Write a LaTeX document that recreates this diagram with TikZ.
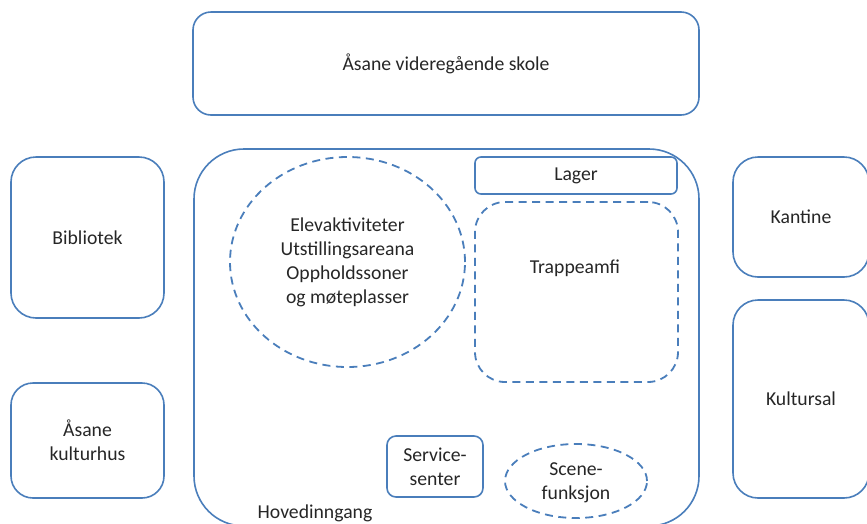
\documentclass[tikz,border=0pt]{standalone}
\usepackage{fontspec}
\setmainfont{Carlito}
\usetikzlibrary{shapes.geometric}
\definecolor{lineblue}{RGB}{74,126,187}
\tikzset{
  boxnode/.style={draw=lineblue, line width=1.6pt, rectangle, inner sep=0pt, align=center},
  dashnode/.style={draw=lineblue, line width=1.8pt, dash pattern=on 8pt off 5.5pt, inner sep=0pt, align=center},
  lbl/.style={inner sep=0pt, align=center},
}
\begin{document}
\begin{tikzpicture}[x=1pt,y=-1pt, every node/.style={font=\fontsize{19.7}{24}\selectfont, text=black!85}]
\useasboundingbox (0,0) rectangle (867,523);
\clip (0,0) rectangle (867,523);
% main box
\node[boxnode, rounded corners=50pt, minimum width=505pt, minimum height=377pt] (main) at (446.5,337.5) {};
% top
\node[boxnode, rounded corners=18pt, minimum width=506pt, minimum height=103pt] (skole) at (446,63.5) {Åsane videregående skole};
% left
\node[boxnode, rounded corners=25pt, minimum width=153pt, minimum height=161pt] (bib) at (87.5,237.5) {Bibliotek};
\node[boxnode, rounded corners=22pt, minimum width=153pt, minimum height=115pt] (kulturhus) at (87.5,440.5) {Åsane\\kulturhus};
% right
\node[boxnode, rounded corners=25pt, minimum width=136pt, minimum height=120pt] (kantine) at (801,217) {Kantine};
\node[boxnode, rounded corners=25pt, minimum width=136pt, minimum height=198pt] (kultursal) at (801,399) {Kultursal};
% inner
\node[boxnode, rounded corners=6pt, minimum width=202pt, minimum height=37pt] (lager) at (576,175.5) {Lager};
\node[dashnode, rectangle, rounded corners=30pt, minimum width=203pt, minimum height=180pt] (trappe) at (576.5,292) {};
\node[lbl] (trappelbl) at (575,268) {Trappeamfi};
\node[dashnode, ellipse, minimum width=235pt, minimum height=210pt] (elev) at (347.5,262) {};
\node[lbl] (elevlbl) at (347.5,262) {Elevaktiviteter\\Utstillingsareana\\Oppholdssoner\\og møteplasser};
\node[boxnode, rounded corners=9pt, minimum width=96pt, minimum height=61pt] (service) at (435,466.5) {Service-\\senter};
\node[dashnode, ellipse, minimum width=142pt, minimum height=74pt] (scene) at (576,481) {};
\node[lbl] (scenelbl) at (576,483) {Scene-\\funksjon};
\node[lbl] (hoved) at (315,513) {Hovedinngang};
\end{tikzpicture}
\end{document}
